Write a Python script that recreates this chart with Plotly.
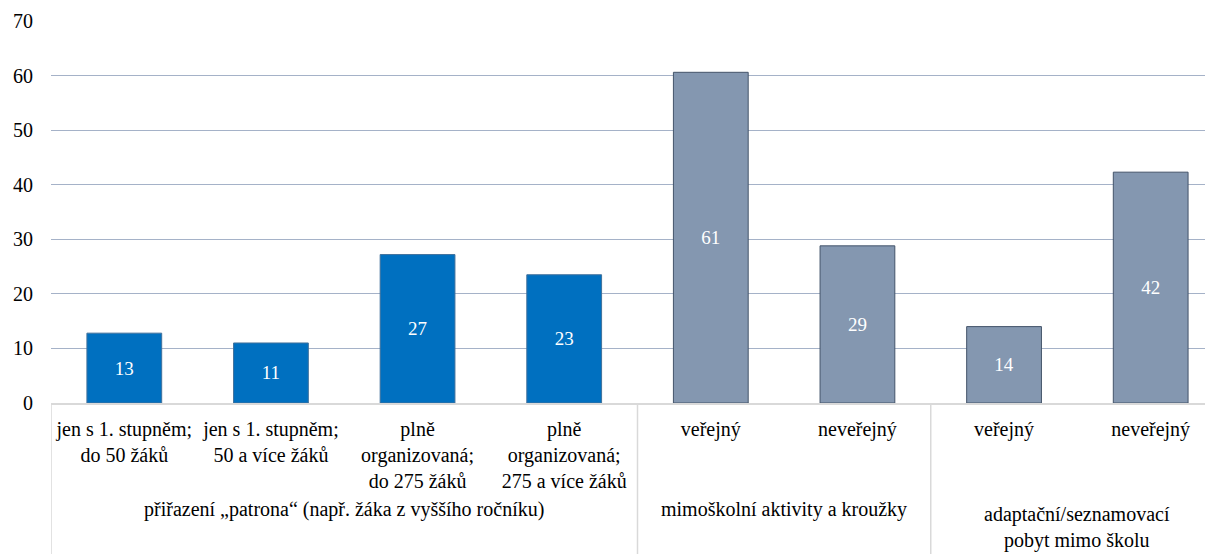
import plotly.graph_objects as go

# data
sub_labels = [
    "jen s 1. stupněm;<br>do 50 žáků",
    "jen s 1. stupněm;<br>50 a více žáků",
    "plně<br>organizovaná;<br>do 275 žáků",
    "plně<br>organizovaná;<br>275 a více žáků",
    "veřejný",
    "neveřejný",
    "veřejný",
    "neveřejný",
]
values = [12.8, 11.0, 27.2, 23.5, 60.6, 28.8, 14.0, 42.3]
value_labels = ["13", "11", "27", "23", "61", "29", "14", "42"]
group_labels = [
    "přiřazení „patrona“ (např. žáka z vyššího ročníku)",
    "mimoškolní aktivity a kroužky",
    "adaptační/seznamovací<br>pobyt mimo školu",
]
group_sizes = [4, 2, 2]

FONT = "Liberation Serif"
SIZE = 20
blue = "#0070C0"
slate = "#8497B0"
bar_colors = [blue] * 4 + [slate] * 4
line_colors = ["#41719C"] * 4 + ["#44546A"] * 4

xs = list(range(len(values)))

fig = go.Figure()
fig.add_trace(go.Bar(
    x=xs, y=values,
    width=0.51,
    marker=dict(color=bar_colors, line=dict(color=line_colors, width=1)),
    text=value_labels,
    textposition="inside",
    insidetextanchor="middle",
    textangle=0,
    textfont=dict(family=FONT, size=19, color="white"),
    hoverinfo="skip",
))

# group labels and separators below the axis
start = 0
yshifts = [-106, -106, -124]
for label, size, ys in zip(group_labels, group_sizes, yshifts):
    center = start + (size - 1) / 2
    fig.add_annotation(x=center, y=0, xref="x", yref="paper",
                       text=label, showarrow=False, yanchor="middle",
                       yshift=ys, font=dict(family=FONT, size=SIZE, color="black"))
    fig.add_shape(type="line", xref="x", yref="paper",
                  x0=start - 0.5, x1=start - 0.5, y0=0, y1=-0.40,
                  line=dict(color="#D9D9D9", width=1.5))
    start += size

fig.update_xaxes(
    tickmode="array", tickvals=xs, ticktext=sub_labels,
    range=[-0.5, 7.425],
    showline=True, linecolor="#D9D9D9", linewidth=1.5,
    showgrid=False, zeroline=False,
    ticks="", ticklabelstandoff=7,
    tickfont=dict(family=FONT, size=SIZE, color="black"),
)
fig.update_yaxes(
    range=[0, 70], dtick=10,
    showgrid=True, gridcolor="#A5B2C8", gridwidth=1,
    zeroline=False, showline=False,
    ticklabelstandoff=17,
    tickfont=dict(family=FONT, size=SIZE, color="black"),
)
# page body adds an 8px margin, so the figure is 8px smaller each way
fig.update_layout(
    width=1205, height=546,
    margin=dict(l=43, r=0, t=13, b=151),
    font=dict(family=FONT, size=SIZE, color="black"),
    plot_bgcolor="white", paper_bgcolor="white",
    showlegend=False,
    bargap=0.49,
)

fig.write_html("out.html")
